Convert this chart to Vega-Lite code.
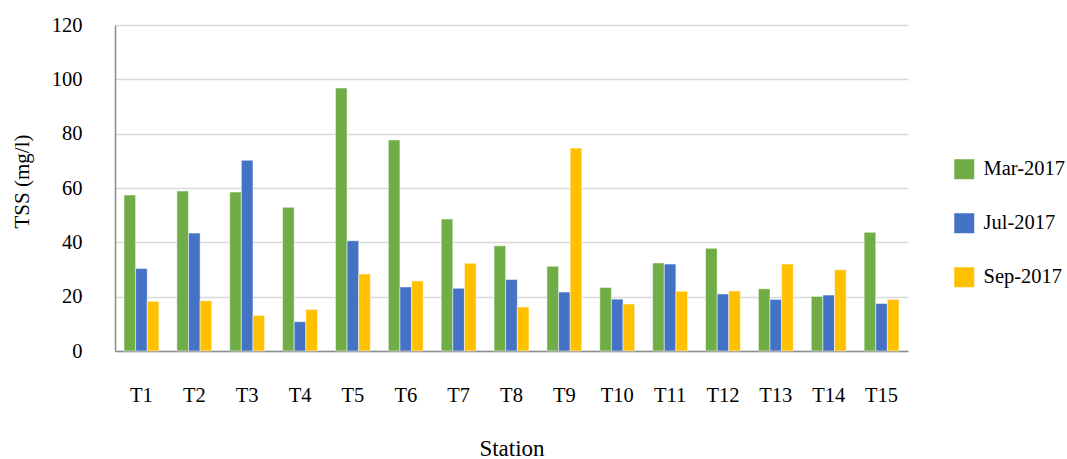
{
  "$schema": "https://vega.github.io/schema/vega-lite/v6.json",
  "width": 793,
  "height": 326,
  "autosize": {"type": "none"},
  "padding": {"left": 115, "top": 25, "right": 159, "bottom": 108},
  "background": "white",
  "config": {
    "font": "Liberation Serif",
    "view": {"stroke": null},
    "axis": {"labelColor": "#000000", "titleColor": "#000000", "titleFontWeight": "normal"}
  },
  "data": {
    "values": [
      {"station": "T1", "period": "Mar-2017", "tss": 57.4},
      {"station": "T1", "period": "Jul-2017", "tss": 30.4},
      {"station": "T1", "period": "Sep-2017", "tss": 18.3},
      {"station": "T2", "period": "Mar-2017", "tss": 58.9},
      {"station": "T2", "period": "Jul-2017", "tss": 43.4},
      {"station": "T2", "period": "Sep-2017", "tss": 18.5},
      {"station": "T3", "period": "Mar-2017", "tss": 58.5},
      {"station": "T3", "period": "Jul-2017", "tss": 70.2},
      {"station": "T3", "period": "Sep-2017", "tss": 13.1},
      {"station": "T4", "period": "Mar-2017", "tss": 52.9},
      {"station": "T4", "period": "Jul-2017", "tss": 10.8},
      {"station": "T4", "period": "Sep-2017", "tss": 15.3},
      {"station": "T5", "period": "Mar-2017", "tss": 96.8},
      {"station": "T5", "period": "Jul-2017", "tss": 40.6},
      {"station": "T5", "period": "Sep-2017", "tss": 28.3},
      {"station": "T6", "period": "Mar-2017", "tss": 77.7},
      {"station": "T6", "period": "Jul-2017", "tss": 23.6},
      {"station": "T6", "period": "Sep-2017", "tss": 25.8},
      {"station": "T7", "period": "Mar-2017", "tss": 48.6},
      {"station": "T7", "period": "Jul-2017", "tss": 23.1},
      {"station": "T7", "period": "Sep-2017", "tss": 32.3},
      {"station": "T8", "period": "Mar-2017", "tss": 38.7},
      {"station": "T8", "period": "Jul-2017", "tss": 26.3},
      {"station": "T8", "period": "Sep-2017", "tss": 16.2},
      {"station": "T9", "period": "Mar-2017", "tss": 31.2},
      {"station": "T9", "period": "Jul-2017", "tss": 21.7},
      {"station": "T9", "period": "Sep-2017", "tss": 74.7},
      {"station": "T10", "period": "Mar-2017", "tss": 23.4},
      {"station": "T10", "period": "Jul-2017", "tss": 19.1},
      {"station": "T10", "period": "Sep-2017", "tss": 17.3},
      {"station": "T11", "period": "Mar-2017", "tss": 32.4},
      {"station": "T11", "period": "Jul-2017", "tss": 32.0},
      {"station": "T11", "period": "Sep-2017", "tss": 22.0},
      {"station": "T12", "period": "Mar-2017", "tss": 37.8},
      {"station": "T12", "period": "Jul-2017", "tss": 21.0},
      {"station": "T12", "period": "Sep-2017", "tss": 22.1},
      {"station": "T13", "period": "Mar-2017", "tss": 22.9},
      {"station": "T13", "period": "Jul-2017", "tss": 19.0},
      {"station": "T13", "period": "Sep-2017", "tss": 32.0},
      {"station": "T14", "period": "Mar-2017", "tss": 20.1},
      {"station": "T14", "period": "Jul-2017", "tss": 20.6},
      {"station": "T14", "period": "Sep-2017", "tss": 29.9},
      {"station": "T15", "period": "Mar-2017", "tss": 43.7},
      {"station": "T15", "period": "Jul-2017", "tss": 17.5},
      {"station": "T15", "period": "Sep-2017", "tss": 19.0}
    ]
  },
  "mark": {"type": "bar", "stroke": "#ffffff", "strokeWidth": 1, "strokeOpacity": 0.5},
  "encoding": {
    "x": {
      "field": "station",
      "type": "nominal",
      "sort": null,
      "scale": {"paddingInner": 0.34, "paddingOuter": 0.17},
      "axis": {
        "title": "Station",
        "titleFont": "Liberation Serif",
        "titleFontSize": 23,
        "titleY": 97,
        "titleBaseline": "middle",
        "labelAngle": 0,
        "labelFont": "Liberation Serif",
        "labelFontSize": 20.5,
        "labelBaseline": "middle",
        "labelPadding": 44,
        "ticks": false,
        "domainColor": "#8c8c8c",
        "domainWidth": 1.5
      }
    },
    "xOffset": {
      "field": "period",
      "type": "nominal",
      "sort": ["Mar-2017", "Jul-2017", "Sep-2017"]
    },
    "y": {
      "field": "tss",
      "type": "quantitative",
      "scale": {"domain": [0, 120], "nice": false},
      "axis": {
        "title": "TSS (mg/l)",
        "titleFont": "Liberation Serif",
        "titleFontSize": 21,
        "titleAngle": -90,
        "titleX": -93,
        "titleY": 156,
        "titleAlign": "center",
        "titleBaseline": "middle",
        "values": [0, 20, 40, 60, 80, 100, 120],
        "labelFont": "Liberation Serif",
        "labelFontSize": 20.5,
        "labelPadding": 33,
        "ticks": false,
        "gridColor": "#d9d9d9",
        "gridWidth": 1.5,
        "domainColor": "#8c8c8c",
        "domainWidth": 1.5
      }
    },
    "color": {
      "field": "period",
      "type": "nominal",
      "sort": ["Mar-2017", "Jul-2017", "Sep-2017"],
      "scale": {"domain": ["Mar-2017", "Jul-2017", "Sep-2017"], "range": ["#70AD47", "#4472C4", "#FFC000"]},
      "legend": {
        "title": null,
        "orient": "none",
        "legendX": 839,
        "legendY": 134,
        "symbolType": "square",
        "symbolSize": 400,
        "symbolStrokeWidth": 0,
        "labelFontSize": 20.5,
        "labelFont": "Liberation Serif",
        "labelColor": "#000000",
        "labelOffset": 9,
        "rowPadding": 33
      }
    }
  }
}
